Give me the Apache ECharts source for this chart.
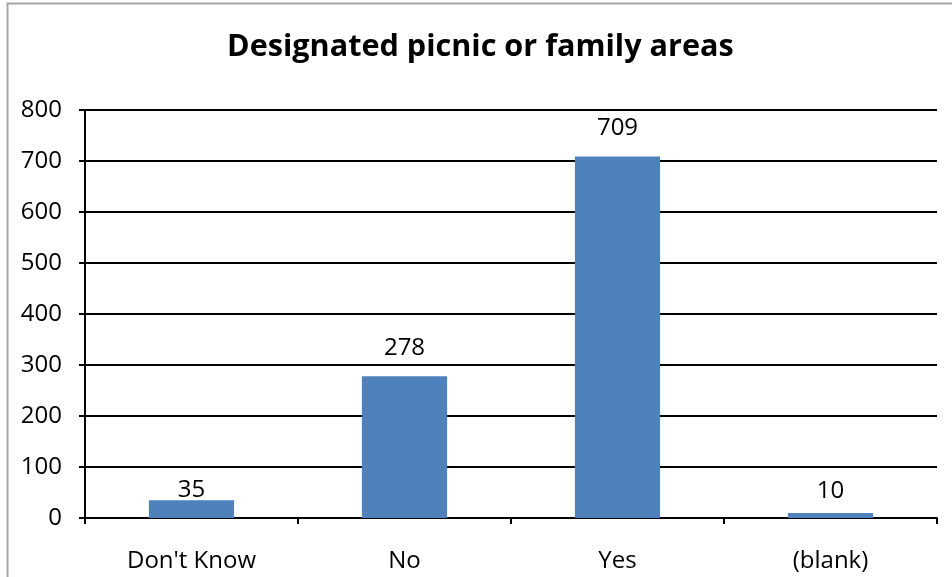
<!DOCTYPE html>
<html>
<head>
<meta charset="utf-8">
<script src="https://cdn.jsdelivr.net/npm/echarts@6/dist/echarts.min.js"></script>
<style>
  html, body { margin: 0; padding: 0; background: #fff; }
  #main { width: 952px; height: 577px; }
</style>
</head>
<body>
<div id="main"></div>
<script>
// data
var categories = ["Don't Know", 'No', 'Yes', '(blank)'];
var counts = [35, 278, 709, 10];
var yTicks = [0, 100, 200, 300, 400, 500, 600, 700, 800];
// label gap above each bar (Excel nudged the small ones)
var labelGap = [-2, 16, 16, 10];

var font = 'Open Sans';
var chart = echarts.init(document.getElementById('main'));
chart.setOption({
  animation: false,
  backgroundColor: '#fff',
  title: {
    text: 'Designated picnic or family areas',
    left: 222,
    top: 27,
    textStyle: { fontFamily: font, fontWeight: 'bold', fontSize: 30.6, color: '#000' }
  },
  graphic: [{
    type: 'rect',
    shape: { x: 7.5, y: 3.5, width: 1000, height: 700 },
    style: { fill: 'none', stroke: '#a6a6a6', lineWidth: 2 },
    silent: true
  }],
  grid: { left: 85, right: 15, top: 110, bottom: 59 },
  xAxis: {
    type: 'category',
    data: categories,
    axisLine: { lineStyle: { color: '#000', width: 2 } },
    axisTick: { show: true, length: 6, lineStyle: { color: '#000', width: 2 } },
    axisLabel: { fontFamily: font, fontSize: 24, color: '#000', margin: 31 }
  },
  yAxis: {
    type: 'value',
    min: yTicks[0],
    max: yTicks[yTicks.length - 1],
    interval: 100,
    axisLine: { show: true, lineStyle: { color: '#000', width: 2 } },
    axisTick: { show: true, length: 6, lineStyle: { color: '#000', width: 2 } },
    splitLine: { show: true, lineStyle: { color: '#000', width: 2 } },
    axisLabel: { fontFamily: font, fontSize: 24, color: '#000', margin: 23 }
  },
  series: [{
    type: 'bar',
    data: counts.map(function (v, i) {
      return { value: v, label: { distance: labelGap[i] } };
    }),
    barWidth: '40%',
    itemStyle: { color: '#4f81bd' },
    label: {
      show: true,
      position: 'top',
      fontFamily: font,
      fontSize: 24,
      color: '#000'
    }
  }]
});
</script>
</body>
</html>
